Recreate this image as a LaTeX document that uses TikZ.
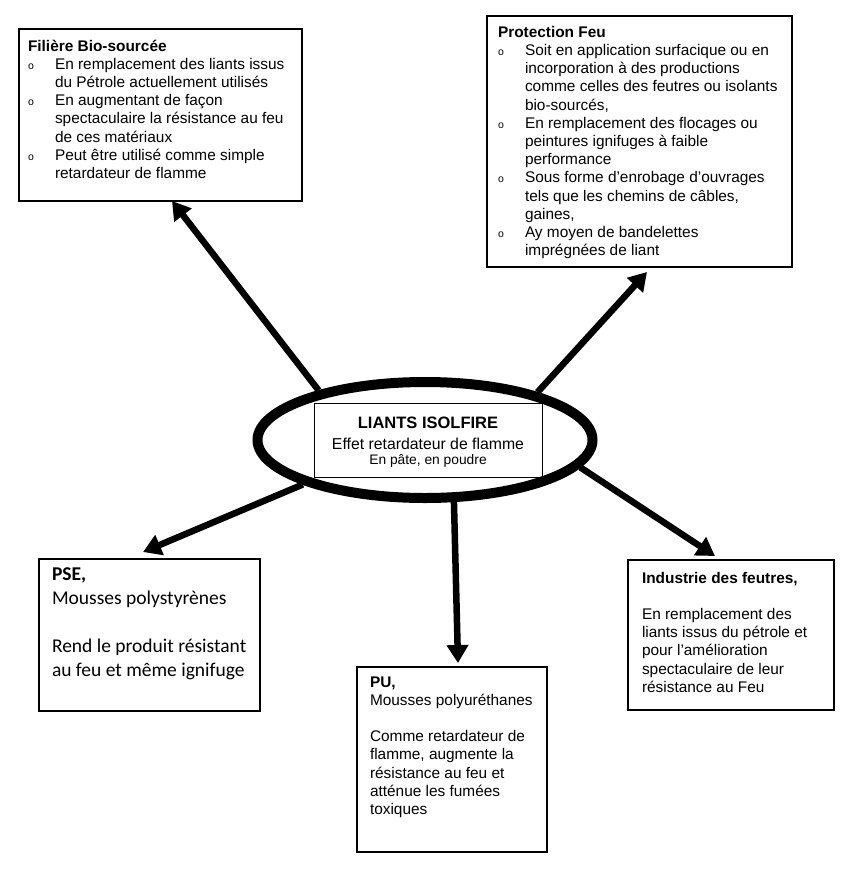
\documentclass[tikz,border=0pt]{standalone}
\usepackage{fontspec}
\setmainfont{Liberation Sans}
\newfontfamily\calibrifont{Carlito}
\usetikzlibrary{arrows.meta,shapes.geometric}
\newcommand\bul{\makebox[27pt][l]{\fontsize{10.5}{10.5}\selectfont o}}
\newcommand\ind{\hspace*{27pt}}
\begin{document}
\begin{tikzpicture}[x=1pt,y=-1pt,
  box/.style={draw, line width=1.3pt, inner sep=0pt, outer sep=0pt, anchor=north west},
  txt/.style={inner sep=0pt, outer sep=0pt, align=left, anchor=north west,
    font=\fontsize{15.4}{18.2}\selectfont},
  ctxt/.style={inner sep=0pt, outer sep=0pt, align=left, anchor=north west,
    font=\calibrifont\fontsize{19.5}{24}\selectfont},
  arr/.style={line width=6.5pt, -{Triangle[length=18pt,width=21pt]}}
]
\useasboundingbox (0,0) rectangle (847,887);

% boxes
\node[box, minimum width=283pt, minimum height=172pt] (tl) at (19,29) {};
\node[box, minimum width=305pt, minimum height=251pt] (tr) at (487,16) {};
\node[box, minimum width=221pt, minimum height=152pt] (pse) at (39,559) {};
\node[box, minimum width=190pt, minimum height=185pt] (pu) at (357,667) {};
\node[box, minimum width=206pt, minimum height=150pt] (ind) at (628,560) {};

% texts
\node[txt] (tlt) at ([xshift=9pt,yshift=-9.3pt]tl.north west) {\strut\textbf{Filière Bio-sourcée}\\
\bul En remplacement des liants issus\\
\ind du Pétrole actuellement utilisés\\
\bul En augmentant de façon\\
\ind spectaculaire la résistance au feu\\
\ind de ces matériaux\\
\bul Peut être utilisé comme simple\\
\ind retardateur de flamme};

\node[txt] (trt) at ([xshift=11pt,yshift=-8.6pt]tr.north west) {\strut\textbf{Protection Feu}\\
\bul Soit en application surfacique ou en\\
\ind incorporation à des productions\\
\ind comme celles des feutres ou isolants\\
\ind bio-sourcés,\\
\bul En remplacement des flocages ou\\
\ind peintures ignifuges à faible\\
\ind performance\\
\bul Sous forme d’enrobage d’ouvrages\\
\ind tels que les chemins de câbles,\\
\ind gaines,\\
\bul Ay moyen de bandelettes\\
\ind imprégnées de liant};

\node[ctxt] (pset) at ([xshift=13pt,yshift=-4.2pt]pse.north west) {\strut\textbf{PSE,}\\
Mousses polystyrènes\\
\strut\\
Rend le produit résistant\\
au feu et même ignifuge};

\node[txt] (put) at ([xshift=13pt,yshift=-7.3pt]pu.north west) {\strut\textbf{PU,}\\
Mousses polyuréthanes\\
\strut\\
Comme retardateur de\\
flamme, augmente la\\
résistance au feu et\\
atténue les fumées\\
toxiques};

\node[txt] (indt) at ([xshift=14pt,yshift=-10.3pt]ind.north west) {\strut\textbf{Industrie des feutres,}\\
\strut\\
En remplacement des\\
liants issus du pétrole et\\
pour l’amélioration\\
spectaculaire de leur\\
résistance au Feu};

% centre
\node[ellipse, draw, line width=10pt, minimum width=335pt, minimum height=116pt, inner sep=0pt] (ell) at (425,440) {};
\node[draw, line width=1pt, inner sep=0pt, outer sep=0pt, minimum width=228pt, minimum height=74pt] (core) at (428,440) {};
\node[inner sep=0pt, anchor=base, font=\bfseries\fontsize{16.5}{19}\selectfont] (c1) at (428,428) {LIANTS ISOLFIRE};
\node[inner sep=0pt, anchor=base, font=\fontsize{15.8}{18}\selectfont] (c2) at (428,449) {Effet retardateur de flamme};
\node[inner sep=0pt, anchor=base, font=\fontsize{13.8}{16}\selectfont] (c3) at (428,464.3) {En pâte, en poudre};

% arrows
\draw[arr] (ell.155) -- ([xshift=11.5pt]tl.south);
\draw[arr] (ell.23) -- ([xshift=7.5pt,yshift=-5pt]tr.south);
\draw[arr] (ell.200) -- ([xshift=-6.5pt,yshift=7pt]pse.north);
\draw[arr] (ell.295) -- ([xshift=6pt,yshift=4pt]pu.north);
\draw[arr] (ell.350) -- ([xshift=-16pt,yshift=4pt]ind.north);
\end{tikzpicture}
\end{document}
